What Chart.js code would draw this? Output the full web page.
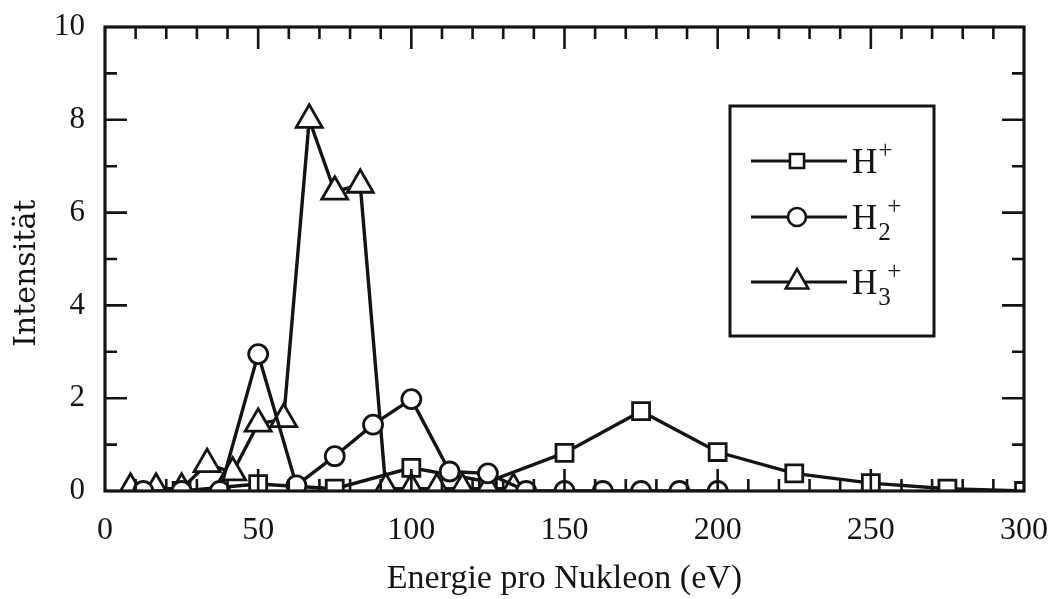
<!DOCTYPE html>
<html>
<head>
<meta charset="utf-8">
<script src="https://cdn.jsdelivr.net/npm/chart.js@4"></script>
<style>
html, body { margin: 0; padding: 0; background: #fff; }
#wrap { width: 1048px; height: 599px; position: relative; }
</style>
</head>
<body>
<div id="wrap"><canvas id="chart"></canvas></div>
<script>
// Energie pro Nukleon (eV) und Intensität je Ion
const energyH1 = [25, 50, 75, 100, 125, 150, 175, 200, 225, 250, 275, 300];
const intensityH1 = [0, 0.15, 0.05, 0.5, 0.2, 0.82, 1.72, 0.84, 0.38, 0.17, 0.05, 0];

const energyH2 = [12.5, 25, 37.5, 50, 62.5, 75, 87.5, 100, 112.5, 125, 137.5, 150, 162.5, 175, 187.5, 200];
const intensityH2 = [0, 0, 0, 2.95, 0.12, 0.75, 1.43, 1.98, 0.42, 0.38, 0, 0, 0, 0, 0, 0];

const energyH3 = [8.33, 16.67, 25, 33.33, 41.67, 50, 58.33, 66.67, 75, 83.33, 91.67, 100, 108.33, 116.67, 125, 133.33];
const intensityH3 = [0.05, 0.05, 0.05, 0.58, 0.4, 1.45, 1.55, 8.0, 6.45, 6.6, 0.05, 0.05, 0.05, 0.05, 0.05, 0.05];

const xTicks = [0, 50, 100, 150, 200, 250, 300];
const yTicks = [0, 2, 4, 6, 8, 10];

const ink = '#141414';
const serif = 'Liberation Serif';

function pairs(xs, ys) {
    return xs.map((x, i) => ({ x: x, y: ys[i] }));
}

function series(label, xs, ys, style, radius, order) {
    return {
        label: label,
        data: pairs(xs, ys),
        borderColor: ink,
        borderWidth: 3.4,
        pointStyle: style,
        pointRadius: radius,
        pointBorderWidth: 2.8,
        pointBorderColor: ink,
        pointBackgroundColor: '#fff',
        tension: 0,
        clip: 0,
        order: order
    };
}

// keine automatische Randreserve für Achsenbeschriftungen
function noPadding(scale) {
    scale.paddingLeft = 0;
    scale.paddingRight = 0;
    scale.paddingTop = 0;
    scale.paddingBottom = 0;
}

// Rahmen mit nach innen zeigenden Teilstrichen
const framePlugin = {
    id: 'frame',
    afterDatasetsDraw(chart) {
        const { ctx, chartArea: a, scales } = chart;
        const xs = scales.x, ys = scales.y;
        ctx.save();
        ctx.strokeStyle = ink;
        ctx.lineWidth = 3.2;
        ctx.strokeRect(a.left, a.top, a.right - a.left, a.bottom - a.top);
        ctx.lineWidth = 2.6;
        ctx.beginPath();
        for (let v = 10; v < 300; v += 10) {
            const px = xs.getPixelForValue(v);
            const len = v % 50 === 0 ? 22 : 12;
            ctx.moveTo(px, a.bottom); ctx.lineTo(px, a.bottom - len);
            ctx.moveTo(px, a.top); ctx.lineTo(px, a.top + len);
        }
        for (let v = 1; v < 10; v++) {
            const py = ys.getPixelForValue(v);
            const len = v % 2 === 0 ? 22 : 12;
            ctx.moveTo(a.left, py); ctx.lineTo(a.left + len, py);
            ctx.moveTo(a.right, py); ctx.lineTo(a.right - len, py);
        }
        ctx.stroke();
        ctx.restore();
    }
};

// Legende mit Hoch- und Tiefstellung
const legendPlugin = {
    id: 'ionLegend',
    afterDraw(chart) {
        const ctx = chart.ctx;
        const box = { left: 730, top: 106, right: 934, bottom: 336 };
        const rows = [
            { y: 161, style: 'rect', r: 10, sub: '' },
            { y: 217, style: 'circle', r: 9, sub: '2' },
            { y: 282, style: 'triangle', r: 13, sub: '3' }
        ];
        ctx.save();
        ctx.strokeStyle = ink;
        ctx.lineWidth = 3;
        ctx.strokeRect(box.left, box.top, box.right - box.left, box.bottom - box.top);
        rows.forEach(row => {
            ctx.lineWidth = 3;
            ctx.beginPath();
            ctx.moveTo(751, row.y); ctx.lineTo(847, row.y);
            ctx.stroke();
            ctx.fillStyle = '#fff';
            ctx.lineWidth = 2.6;
            Chart.helpers.drawPoint(ctx, { pointStyle: row.style, radius: row.r, borderWidth: 2.6 }, 797, row.y);
            ctx.fillStyle = ink;
            ctx.textBaseline = 'alphabetic';
            ctx.font = '35px "' + serif + '"';
            const base = row.y + 12;
            ctx.fillText('H', 852, base);
            const x = 852 + ctx.measureText('H').width + 1;
            ctx.font = '25px "' + serif + '"';
            if (row.sub) {
                ctx.fillText(row.sub, x, base + 11);
            }
            ctx.fillText('+', x + (row.sub ? 9 : 0), base - 15);
        });
        ctx.restore();
    }
};

new Chart(document.getElementById('chart'), {
    type: 'line',
    data: {
        datasets: [
            series('H+', energyH1, intensityH1, 'rect', 12, 2),
            series('H2+', energyH2, intensityH2, 'circle', 9.5, 0),
            series('H3+', energyH3, intensityH3, 'triangle', 15, 1)
        ]
    },
    options: {
        responsive: true,
        maintainAspectRatio: false,
        animation: false,
        layout: { padding: { top: 27, right: 24, left: 0, bottom: 0 } },
        plugins: {
            legend: { display: false },
            tooltip: { enabled: false }
        },
        scales: {
            x: {
                type: 'linear',
                min: 0,
                max: 300,
                afterFit(scale) { scale.height = 108; noPadding(scale); },
                afterBuildTicks(scale) { scale.ticks = xTicks.map(v => ({ value: v })); },
                grid: { display: false, drawTicks: false },
                border: { display: false },
                ticks: { color: ink, padding: 20, maxRotation: 0, font: { family: serif, size: 32 } },
                title: {
                    display: true,
                    text: 'Energie pro Nukleon (eV)',
                    color: ink,
                    font: { family: serif, size: 34 },
                    padding: { top: 0, bottom: 0 }
                }
            },
            y: {
                type: 'linear',
                min: 0,
                max: 10,
                afterFit(scale) { scale.width = 105; noPadding(scale); },
                afterBuildTicks(scale) { scale.ticks = yTicks.map(v => ({ value: v })); },
                grid: { display: false, drawTicks: false },
                border: { display: false },
                ticks: { color: ink, padding: 20, font: { family: serif, size: 31 } },
                title: {
                    display: true,
                    text: 'Intensität   ',
                    color: ink,
                    font: { family: 'DejaVu Serif', size: 30 },
                    padding: { top: 9, bottom: 0 }
                }
            }
        }
    },
    plugins: [framePlugin, legendPlugin]
});
</script>
</body>
</html>
